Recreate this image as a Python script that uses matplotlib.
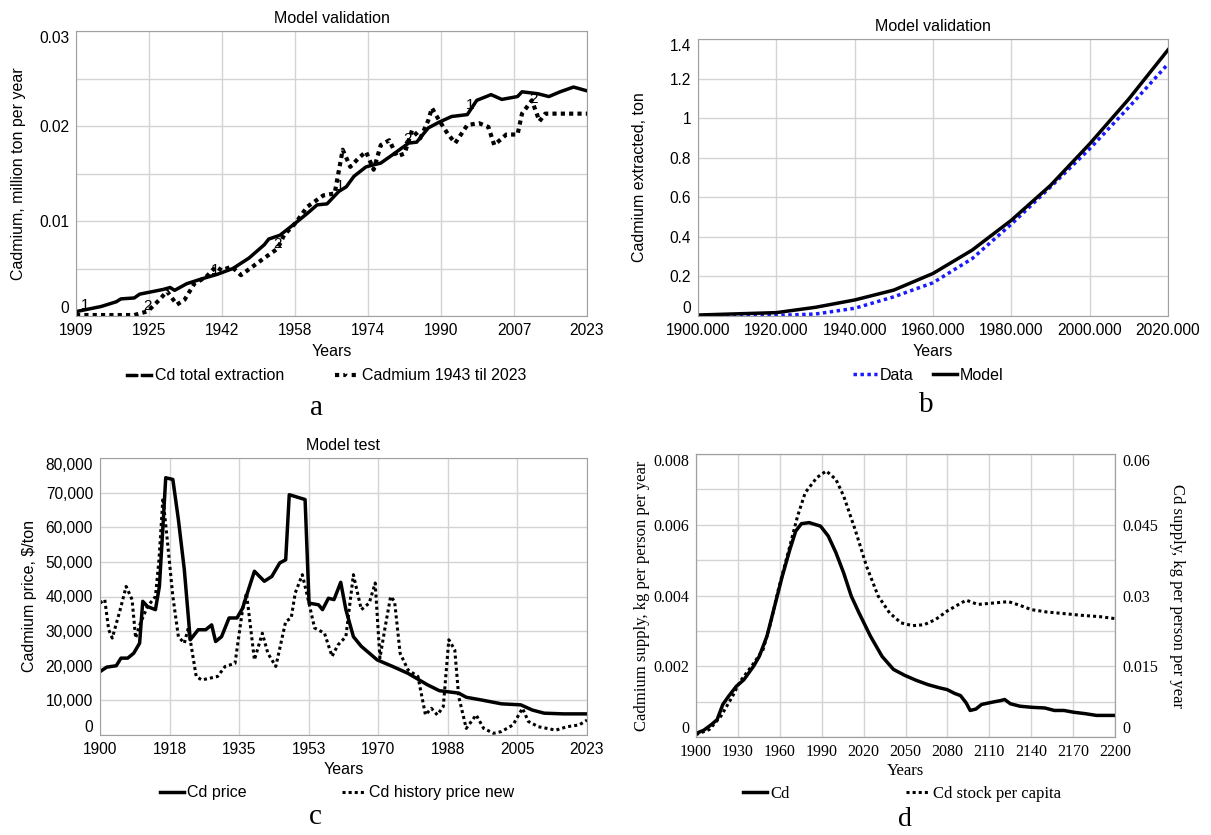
import numpy as np
import matplotlib
matplotlib.use('Agg')
import matplotlib.pyplot as plt
from matplotlib.lines import Line2D
from matplotlib.ticker import FixedLocator

SANS = ['Liberation Sans', 'DejaVu Sans']
SERIF = ['Liberation Serif', 'DejaVu Serif']

# ---- panel a: cadmium extraction, million ton per year
ext_years = [1909, 1914.6, 1918, 1919, 1922, 1923.2, 1928.5, 1930, 1931, 1933.7, 1937,
             1940.6, 1944, 1947.6, 1951, 1952, 1954.5, 1958, 1960.6, 1962.8, 1965,
             1967.6, 1969.3, 1971, 1973.7, 1977, 1979.7, 1983.2, 1985, 1987.6, 1990,
             1992.8, 1996.3, 1998.4, 2001.6, 2004, 2007.5, 2008.5, 2012, 2014.5, 2017,
             2020, 2023]
ext_vals = [0.00046, 0.001, 0.0015, 0.0018, 0.0019, 0.0023, 0.0028, 0.003, 0.0027, 0.0034,
            0.0039, 0.0044, 0.005, 0.0061, 0.0075, 0.0081, 0.0085, 0.0098, 0.0108, 0.0117,
            0.0118, 0.0131, 0.0136, 0.0147, 0.0157, 0.0161, 0.017, 0.0182, 0.0183, 0.0198,
            0.0204, 0.021, 0.0212, 0.0227, 0.0233, 0.0228, 0.0231, 0.0236, 0.0234, 0.0231,
            0.0236, 0.0241, 0.0237]
hist_years = [1909, 1922, 1925, 1927.6, 1929.3, 1931.5, 1933.2, 1935.4, 1938, 1940.2,
              1941.5, 1943.7, 1945.8, 1948.4, 1951, 1954, 1955.4, 1958, 1960.6, 1964.2,
              1966.7, 1968.5, 1970.2, 1972, 1973.7, 1975.4, 1977, 1978.9, 1980.6, 1982.3,
              1984, 1985.8, 1987.6, 1988.4, 1990, 1991.9, 1993.6, 1996.3, 1998.9, 2001,
              2002.3, 2005, 2007.5, 2008.5, 2010.7, 2012.4, 2013.7, 2023]
hist_vals = [0.0001, 0.0001, 0.0005, 0.0017, 0.0026, 0.0012, 0.0017, 0.0034, 0.0041, 0.0052,
             0.0048, 0.0052, 0.0043, 0.0052, 0.0061, 0.0071, 0.0085, 0.0098, 0.0115, 0.0127,
             0.0129, 0.0175, 0.0157, 0.0166, 0.0173, 0.0154, 0.018, 0.0185, 0.0168, 0.0171,
             0.0196, 0.0187, 0.0206, 0.0219, 0.0206, 0.0192, 0.0182, 0.0201, 0.0203, 0.0199,
             0.018, 0.0191, 0.0191, 0.0213, 0.0227, 0.0205, 0.0213, 0.0213]
ext_mark_years = [1911, 1940, 1968, 1997]
hist_mark_years = [1925, 1954, 1983, 2011]

# ---- panel b: cumulative extraction
cum_years = [1900, 1920, 1930, 1940, 1950, 1960, 1970, 1980, 1990, 2000, 2010, 2020]
cum_model = [0.005, 0.017, 0.044, 0.081, 0.131, 0.215, 0.333, 0.484, 0.66, 0.87, 1.097, 1.345]
cum_data = [0.0, 0.003, 0.01, 0.039, 0.097, 0.168, 0.29, 0.464, 0.652, 0.845, 1.055, 1.274]

# ---- panel c: price
price_years = [1900, 1901.7, 1904.1, 1905.3, 1907, 1908.5, 1910, 1910.8, 1912, 1914, 1915,
               1915.9, 1916.6, 1918.4, 1919.8, 1921.3, 1922.8, 1924.8, 1926.7, 1928.2,
               1929.2, 1930.7, 1932.6, 1934.6, 1936, 1937.5, 1939, 1941.5, 1943.4, 1945.4,
               1946.9, 1947.8, 1951.8, 1952.8, 1955.2, 1956.2, 1957.7, 1959.1, 1960.8,
               1962.1, 1964, 1966, 1970, 1973.9, 1977.8, 1982.7, 1985.7, 1990.6, 1992.5,
               1996.4, 2001.4, 2006.3, 2009.2, 2012.2, 2017.1, 2023]
price_vals = [18300, 19600, 20000, 22200, 22200, 23600, 26500, 38600, 37100, 36200, 42900,
              60300, 74300, 73800, 62200, 47700, 27500, 30400, 30400, 31800, 27000, 28400,
              33800, 33800, 36600, 42000, 47300, 44400, 45800, 49700, 50600, 69400, 68000,
              38100, 37600, 36200, 39500, 39100, 44100, 36200, 28400, 25600, 21700, 19800,
              17800, 14500, 12800, 12100, 10900, 10100, 9000, 8700, 7200, 6300, 6100, 6100]
hprice_years = [1900, 1901.2, 1902.2, 1903.1, 1905.1, 1906.6, 1908.1, 1909, 1910.2, 1912,
                1914, 1914.9, 1915.9, 1916.9, 1918.4, 1919.8, 1921.3, 1922.3, 1924.3, 1925.7,
                1929.7, 1931.6, 1934.1, 1936, 1937, 1939, 1941, 1942.4, 1944.4, 1946.9,
                1948.3, 1949.3, 1951.1, 1952.2, 1954.2, 1956.7, 1958.6, 1960.1, 1962.1, 1964,
                1966, 1968, 1969.5, 1970.7, 1971.9, 1973.4, 1974.4, 1975.8, 1977.8, 1980.3,
                1982.2, 1983.7, 1985.2, 1986.7, 1988.1, 1989.6, 1990.6, 1992.5, 1995, 1996.9,
                1999.4, 2001.4, 2004.3, 2006.7, 2008.2, 2010.7, 2015.1, 2018, 2021, 2023]
hprice_vals = [38100, 39100, 30400, 28000, 36200, 42900, 39100, 28000, 32300, 37100, 40000,
               50600, 68500, 57400, 40000, 28400, 26500, 30900, 16900, 15900, 16900, 19800,
               20700, 36200, 41000, 21700, 29400, 23600, 19800, 32800, 33800, 41000, 46300,
               41000, 30900, 29400, 22700, 26000, 28400, 46300, 36200, 38100, 43900, 22200,
               30400, 40000, 38600, 23600, 18800, 16900, 5800, 7700, 5800, 8200, 27500, 24600,
               11100, 1900, 5800, 1900, 500, 1000, 2900, 7700, 3900, 2400, 1400, 2400, 2900,
               4300]

# ---- panel d: supply per person
sup_years = [1900, 1905.5, 1911, 1915.1, 1919.2, 1923.3, 1928.8, 1934.3, 1941.2, 1945.3,
             1950.8, 1956.3, 1961.8, 1967.2, 1971.4, 1975.5, 1981, 1989.2, 1994.7, 2000.2,
             2005.7, 2011.2, 2016.7, 2024.9, 2033.2, 2041.4, 2049.6, 2057.8, 2066.1, 2074.3,
             2079.8, 2085.3, 2089.4, 2093.5, 2096.3, 2100.4, 2104.5, 2112.8, 2118.2, 2121,
             2125.1, 2132, 2140.2, 2149.8, 2156.6, 2163.5, 2170.4, 2178.6, 2186.8, 2200]
sup_vals = [0.0001, 0.00019, 0.00035, 0.00049, 0.00092, 0.00115, 0.00143, 0.00162, 0.002,
            0.00228, 0.00285, 0.0037, 0.00455, 0.0053, 0.00582, 0.00603, 0.00606, 0.00596,
            0.00568, 0.00521, 0.00464, 0.00398, 0.00351, 0.00285, 0.00228, 0.00191, 0.00174,
            0.0016, 0.00148, 0.00139, 0.00134, 0.00123, 0.00117, 0.00096, 0.00075, 0.00079,
            0.00092, 0.00099, 0.00103, 0.00106, 0.00094, 0.00087, 0.00084, 0.00082, 0.00075,
            0.00075, 0.0007, 0.00066, 0.00061, 0.00061]
stock_years = [1900, 1909.6, 1917.8, 1926.1, 1931.6, 1939.8, 1948, 1953.5, 1959, 1967.2,
               1972.7, 1978.2, 1986.5, 1993.3, 2000.2, 2005.7, 2013.9, 2022.1, 2030.4,
               2038.6, 2046.8, 2055, 2063.3, 2071.5, 2079.8, 2088, 2093.5, 2101.8, 2112.8,
               2123.7, 2132, 2140.2, 2151.2, 2162.1, 2175.9, 2189.6, 2200]
stock_vals = [0.0005, 0.0016, 0.0044, 0.0086, 0.0118, 0.015, 0.0185, 0.0242, 0.0313, 0.0405,
              0.0468, 0.0518, 0.055, 0.0564, 0.0546, 0.0511, 0.044, 0.0362, 0.0299, 0.0263,
              0.0242, 0.0236, 0.0238, 0.0249, 0.0267, 0.0281, 0.029, 0.0281, 0.0284, 0.0287,
              0.0279, 0.027, 0.0265, 0.0262, 0.0258, 0.0255, 0.0251]

W, H = 1211, 835
fig = plt.figure(figsize=(W / 100, H / 100), dpi=100)

TICK = 11.2
LAB = 11.5


def make_axes(left, top, right, bottom):
    return fig.add_axes([left / W, 1 - bottom / H, (right - left) / W, (bottom - top) / H])


def vensim_style(ax, family, size):
    ax.tick_params(length=0, labelsize=size, pad=5)
    ax.tick_params(which='minor', length=0)
    ax.grid(True, which='both', color='#d4d4d4', lw=1)
    ax.set_axisbelow(True)
    for s in ax.spines.values():
        s.set_color('#a0a0a0')
    for lab in ax.get_xticklabels() + ax.get_yticklabels():
        lab.set_family(family)
    ylabs = ax.get_yticklabels()
    ylabs[0].set_va('bottom')
    ylabs[-1].set_va('top')


def place_labels(ax, box, xlab_y, ylab_x):
    # axis label centres given in figure pixels
    left, top, right, bottom = box
    ax.xaxis.set_label_coords(0.5, -(xlab_y - bottom) / (bottom - top))
    ax.xaxis.label.set_va('center')
    ax.yaxis.set_label_coords((ylab_x - left) / (right - left), 0.5)
    ax.yaxis.label.set_va('center')


def fig_legend(handles, labels, cx, cy, family, size, spacing, hl=1.5):
    fig.legend(handles, labels, ncol=2, loc='center', bbox_to_anchor=(cx / W, 1 - cy / H),
               frameon=False, prop={'family': family, 'size': size}, handlelength=hl,
               handletextpad=0.2, columnspacing=spacing, borderpad=0, numpoints=1)


dot = (0, (1, 1))

# ================= a
box = (76, 31, 587, 316)
ax = make_axes(*box)
ax.plot(ext_years, ext_vals, color='black', lw=2.5)
ax.plot(hist_years, hist_vals, color='black', lw=3, ls=dot)
for yr in ext_mark_years:
    ax.text(yr, np.interp(yr, ext_years, ext_vals) + 0.0005, '1', family=SANS,
            fontsize=11, ha='center', va='center')
for yr in hist_mark_years:
    ax.text(yr, np.interp(yr, hist_years, hist_vals) + 0.0005, '2', family=SANS,
            fontsize=11, ha='center', va='center')
ax.set_xlim(1909, 2023)
ax.set_ylim(0, 0.03)
xt = np.linspace(1909, 2023, 8)
ax.set_xticks(xt)
ax.set_xticklabels([str(int(round(v))) for v in xt])
ax.set_yticks([0, 0.01, 0.02, 0.03])
ax.set_yticklabels(['0', '0.01', '0.02', '0.03'])
ax.yaxis.set_minor_locator(FixedLocator([0.005, 0.015, 0.025]))
vensim_style(ax, SANS, TICK)
ax.set_title('Model validation', family=SANS, fontsize=LAB, pad=6)
ax.set_xlabel('Years', family=SANS, fontsize=LAB)
ax.set_ylabel('Cadmium, million ton per year', family=SANS, fontsize=LAB)
place_labels(ax, box, 352, 19)
h1 = Line2D([], [], color='black', lw=2.5, marker='$1$', ms=5, mfc='black', mec='white', mew=1)
h2 = Line2D([], [], color='black', lw=3, ls=dot, marker='$2$', ms=5, mfc='black', mec='white', mew=1)
fig_legend([h1, h2], ['Cd total extraction', 'Cadmium 1943 til 2023'], 327, 376, SANS, LAB, 3.2)
fig.text(317 / W, 1 - 408 / H, 'a', family=SERIF, fontsize=21, ha='center', va='center')

# ================= b
box = (698, 39, 1168, 316)
ax = make_axes(*box)
lb1, = ax.plot(cum_years, cum_data, color='#1a1aff', lw=2.5, ls=dot)
lb2, = ax.plot(cum_years, cum_model, color='black', lw=2.5)
ax.set_xlim(1900, 2020)
ax.set_ylim(0, 1.4)
ax.set_xticks(np.arange(1900, 2021, 20))
ax.set_xticklabels([f'{v:.3f}' for v in np.arange(1900, 2021, 20)])
ax.set_yticks(np.arange(0, 1.41, 0.2))
ax.set_yticklabels(['0', '0.2', '0.4', '0.6', '0.8', '1', '1.2', '1.4'])
vensim_style(ax, SANS, TICK)
ax.set_title('Model validation', family=SANS, fontsize=LAB, pad=6)
ax.set_xlabel('Years', family=SANS, fontsize=LAB)
ax.set_ylabel('Cadmium extracted, ton', family=SANS, fontsize=LAB)
place_labels(ax, box, 351, 640)
fig_legend([lb1, lb2], ['Data', 'Model'], 928, 375, SANS, LAB, 1.2)
fig.text(926 / W, 1 - 405 / H, 'b', family=SERIF, fontsize=21, ha='center', va='center')

# ================= c
box = (100, 458, 587, 735)
ax = make_axes(*box)
lc1, = ax.plot(price_years, price_vals, color='black', lw=2.5)
lc2, = ax.plot(hprice_years, hprice_vals, color='black', lw=2.2, ls=dot)
ax.set_xlim(1900, 2023)
ax.set_ylim(0, 80000)
xt = np.linspace(1900, 2023, 8)
ax.set_xticks(xt)
ax.set_xticklabels([str(int(round(v))) for v in xt])
ax.set_yticks(np.arange(0, 80001, 10000))
ax.set_yticklabels([f'{v:,}' for v in range(0, 80001, 10000)])
vensim_style(ax, SANS, TICK)
ax.set_title('Model test', family=SANS, fontsize=LAB, pad=6)
ax.set_xlabel('Years', family=SANS, fontsize=LAB)
ax.set_ylabel('Cadmium price, $/ton', family=SANS, fontsize=LAB)
place_labels(ax, box, 770, 29)
fig_legend([lc1, lc2], ['Cd price', 'Cd history price new'], 337, 793, SANS, LAB, 6.0)
fig.text(315 / W, 1 - 817 / H, 'c', family=SERIF, fontsize=21, ha='center', va='center')

# ================= d
box = (696, 454, 1115, 737)
ax = make_axes(*box)
l1, = ax.plot(sup_years, sup_vals, color='black', lw=2.5)
ax.set_xlim(1900, 2200)
ax.set_ylim(0, 0.008)
ax.set_xticks(np.arange(1900, 2201, 30))
ax.set_yticks([0, 0.002, 0.004, 0.006, 0.008])
ax.set_yticklabels(['0', '0.002', '0.004', '0.006', '0.008'])
ax.yaxis.set_minor_locator(FixedLocator([0.001, 0.003, 0.005, 0.007]))
vensim_style(ax, SERIF, 11.5)
ax.set_xlabel('Years', family=SERIF, fontsize=12)
ax.set_ylabel('Cadmium supply, kg per person per year', family=SERIF, fontsize=12)
place_labels(ax, box, 771, 642)
ax2 = ax.twinx()
l2, = ax2.plot(stock_years, stock_vals, color='black', lw=2.2, ls=dot)
ax2.set_ylim(0, 0.06)
ax2.set_yticks([0, 0.015, 0.03, 0.045, 0.06])
ax2.set_yticklabels(['0', '0.015', '0.03', '0.045', '0.06'])
ax2.tick_params(length=0, labelsize=11.5, pad=5)
for s in ax2.spines.values():
    s.set_color('#a0a0a0')
rl = ax2.get_yticklabels()
for lab in rl:
    lab.set_family(SERIF)
rl[0].set_va('bottom')
rl[-1].set_va('top')
ax2.set_ylabel('Cd supply, kg per person per year', family=SERIF, fontsize=12, rotation=270)
ax2.yaxis.set_label_coords((1177 - 696) / (1115 - 696), 0.5)
ax2.yaxis.label.set_va('center')
fig_legend([l1, l2], ['Cd', 'Cd stock per capita'], 902, 794, SERIF, 12, 7.0, hl=1.4)
fig.text(905 / W, 1 - 819 / H, 'd', family=SERIF, fontsize=20, ha='center', va='center')

fig.savefig('out.png', dpi=100)
